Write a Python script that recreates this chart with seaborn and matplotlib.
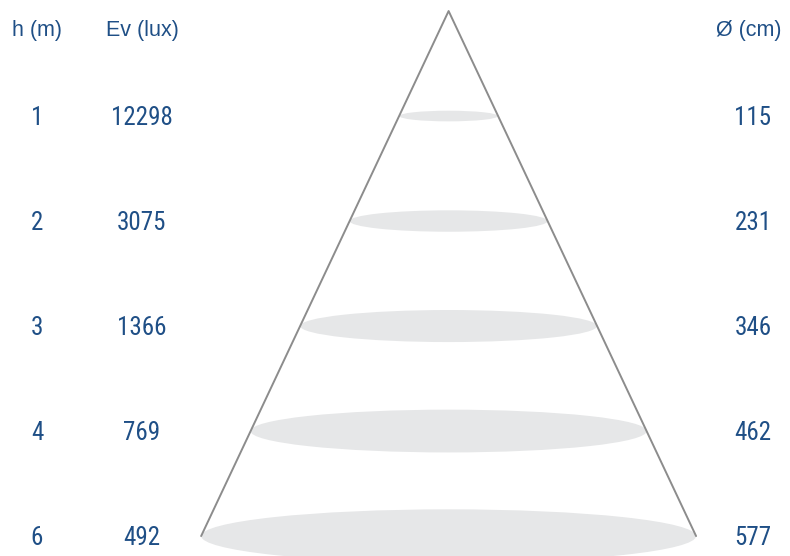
import numpy as np
import pandas as pd
import matplotlib
matplotlib.use("Agg")
import matplotlib.pyplot as plt
import matplotlib.transforms as mtransforms
from matplotlib.patches import Ellipse
import seaborn as sns

# data
heights = ["1", "2", "3", "4", "6"]
illuminance = [12298, 3075, 1366, 769, 492]
diameters = [115, 231, 346, 462, 577]
headers = ["h (m)", "Ev (lux)", "Ø (cm)"]

TEXT_COLOR = "#1f4f86"
CONE_COLOR = "#8c8c8c"
SPOT_COLOR = "#e6e7e8"

sns.set_theme(style="white")
plt.rcParams["font.family"] = ["Liberation Sans", "DejaVu Sans"]
num_family = ["Roboto Condensed", "Liberation Sans", "DejaVu Sans"]

W, H = 790, 556
fig = plt.figure(figsize=(W / 100, H / 100), dpi=100)
ax = fig.add_axes([0, 0, 1, 1])
xlim = (-523, 398)
ylim = (5.19, -0.105)
ax.set_xlim(*xlim)
ax.set_ylim(*ylim)
ax.axis("off")

rows = np.arange(1, len(heights) + 1)

# light spots (ellipse height ~ 0.108 of its width in pixels)
px_x = W / (xlim[1] - xlim[0])
px_y = H / (ylim[0] - ylim[1])
for r, d in zip(rows, diameters):
    eh = 0.108 * d * px_x / px_y
    ax.add_patch(Ellipse((0, r), d, eh, facecolor=SPOT_COLOR, lw=0, zorder=1))

# cone outline
cone = pd.DataFrame({
    "x": [-diameters[-1] / 2, 0, diameters[-1] / 2],
    "y": [rows[-1], 0, rows[-1]],
})
sns.lineplot(data=cone, x="x", y="y", sort=False, estimator=None,
             color=CONE_COLOR, lw=1.4, ax=ax, zorder=2)

# labels
trans = mtransforms.blended_transform_factory(ax.transAxes, ax.transData)
trans = mtransforms.offset_copy(trans, fig=fig, x=0, y=-2, units="dots")
col_x = [37 / W, 142 / W, 749 / W]
for x, t in zip(col_x, headers):
    ax.text(x, 0.165, t, transform=trans, ha="center", va="center",
            fontsize=15.5, color=TEXT_COLOR)

num_x = [37 / W, 142 / W, 753 / W]
for r, h, ev, d in zip(rows, heights, illuminance, diameters):
    for x, t in zip(num_x, [h, str(ev), str(d)]):
        ax.text(x, r, t, transform=trans, ha="center", va="center",
                fontsize=18, color=TEXT_COLOR, family=num_family)

fig.savefig("out.png", dpi=100)
plt.close(fig)
